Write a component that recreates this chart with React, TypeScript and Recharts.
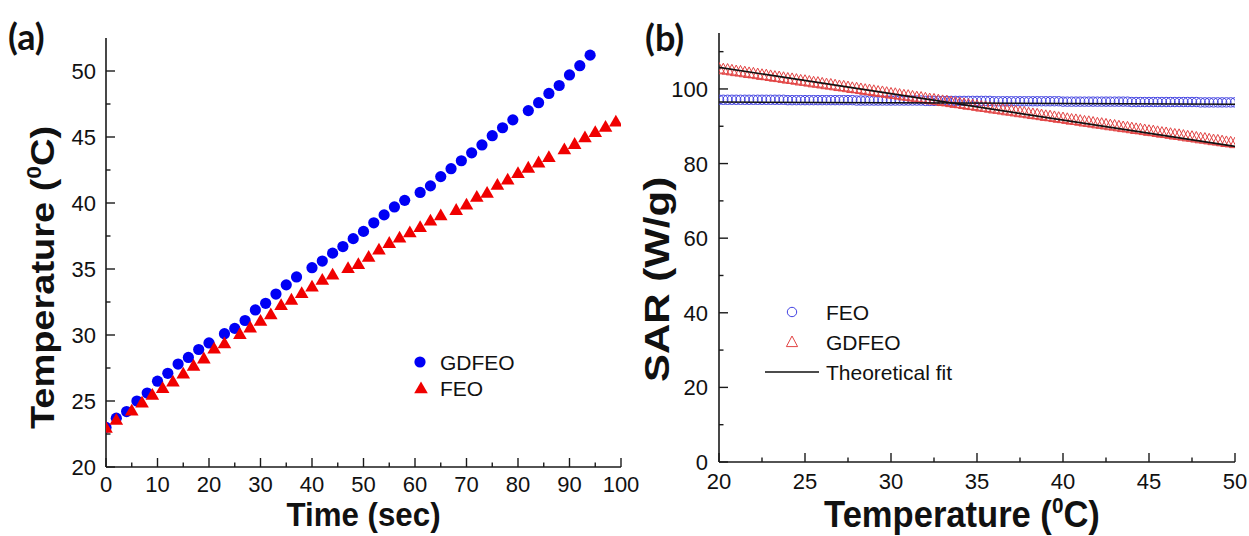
import { ScatterChart, Scatter, XAxis, YAxis } from "recharts";

// ---------- (a) heating curves ----------
const gdfeoTime = [0, 2, 4, 6, 8, 10, 12, 14, 16, 18, 20, 23, 25, 27, 29, 31, 33, 35, 37, 40, 42, 44, 46, 48, 50, 52, 54, 56, 58, 61, 63, 65, 67, 69, 71, 73, 75, 77, 79, 82, 84, 86, 88, 90, 92, 94];
const gdfeoTemp = [23.0, 23.7, 24.2, 25.0, 25.6, 26.5, 27.1, 27.8, 28.3, 28.9, 29.4, 30.1, 30.5, 31.1, 31.9, 32.4, 33.1, 33.8, 34.4, 35.1, 35.6, 36.2, 36.7, 37.3, 37.85, 38.5, 39.1, 39.7, 40.2, 40.8, 41.3, 42.0, 42.6, 43.2, 43.8, 44.4, 45.1, 45.7, 46.3, 47.0, 47.6, 48.3, 48.9, 49.7, 50.4, 51.2];

const feoTime = [0, 2, 5, 7, 9, 11, 13, 15, 17, 19, 21, 23, 26, 28, 30, 32, 34, 36, 38, 40, 42, 44, 47, 49, 51, 53, 55, 57, 59, 61, 63, 65, 68, 70, 72, 74, 76, 78, 80, 82, 84, 86, 89, 91, 93, 95, 97, 99];
const feoTemp = [23.0, 23.6, 24.3, 24.9, 25.5, 26.0, 26.5, 27.1, 27.7, 28.25, 29.0, 29.4, 30.1, 30.6, 31.1, 31.6, 32.3, 32.7, 33.2, 33.7, 34.2, 34.6, 35.1, 35.4, 35.95, 36.5, 37.0, 37.4, 37.8, 38.2, 38.7, 39.1, 39.5, 39.9, 40.5, 40.8, 41.4, 41.8, 42.3, 42.7, 43.1, 43.5, 44.1, 44.5, 45.0, 45.4, 45.8, 46.2];

const timeLabels = [0, 10, 20, 30, 40, 50, 60, 70, 80, 90, 100];
const timeMinor = [5, 15, 25, 35, 45, 55, 65, 75, 85, 95];
const tempLabelsA = [20, 25, 30, 35, 40, 45, 50];
const tempMinorA = [22.5, 27.5, 32.5, 37.5, 42.5, 47.5];

// ---------- (b) SAR vs temperature ----------
const sarTemp = [
  20, 20.25, 20.5, 20.75, 21, 21.25, 21.5, 21.75, 22, 22.25, 22.5, 22.75, 23, 23.25, 23.5, 23.75,
  24, 24.25, 24.5, 24.75, 25, 25.25, 25.5, 25.75, 26, 26.25, 26.5, 26.75, 27, 27.25, 27.5, 27.75,
  28, 28.25, 28.5, 28.75, 29, 29.25, 29.5, 29.75, 30, 30.25, 30.5, 30.75, 31, 31.25, 31.5, 31.75,
  32, 32.25, 32.5, 32.75, 33, 33.25, 33.5, 33.75, 34, 34.25, 34.5, 34.75, 35, 35.25, 35.5, 35.75,
  36, 36.25, 36.5, 36.75, 37, 37.25, 37.5, 37.75, 38, 38.25, 38.5, 38.75, 39, 39.25, 39.5, 39.75,
  40, 40.25, 40.5, 40.75, 41, 41.25, 41.5, 41.75, 42, 42.25, 42.5, 42.75, 43, 43.25, 43.5, 43.75,
  44, 44.25, 44.5, 44.75, 45, 45.25, 45.5, 45.75, 46, 46.25, 46.5, 46.75, 47, 47.25, 47.5, 47.75,
  48, 48.25, 48.5, 48.75, 49, 49.25, 49.5, 49.75, 50,
];
const sarFeo = [
  97.1, 97.1, 97.1, 97.1, 97.1, 97.1, 97.1, 97.1, 97.1, 97.1, 97.1, 97.1, 97.1, 97.1, 97.1, 97.1,
  97.0, 97.0, 97.0, 97.0, 97.0, 97.0, 97.0, 97.0, 97.0, 97.0, 97.0, 97.0, 97.0, 97.0, 97.0, 97.0,
  96.9, 96.9, 96.9, 96.9, 96.9, 96.9, 96.9, 96.9, 96.9, 96.9, 96.9, 96.9, 96.9, 96.9, 96.9, 96.9,
  96.8, 96.8, 96.8, 96.8, 96.8, 96.8, 96.8, 96.8, 96.8, 96.8, 96.8, 96.8, 96.8, 96.8, 96.8, 96.8,
  96.7, 96.7, 96.7, 96.7, 96.7, 96.7, 96.7, 96.7, 96.7, 96.7, 96.7, 96.7, 96.7, 96.7, 96.7, 96.7,
  96.6, 96.6, 96.6, 96.6, 96.6, 96.6, 96.6, 96.6, 96.6, 96.6, 96.6, 96.6, 96.6, 96.6, 96.6, 96.6,
  96.5, 96.5, 96.5, 96.5, 96.5, 96.5, 96.5, 96.5, 96.5, 96.5, 96.5, 96.5, 96.5, 96.5, 96.5, 96.5,
  96.4, 96.4, 96.4, 96.4, 96.4, 96.4, 96.4, 96.4, 96.4,
];
const sarGdfeo = [
  105.5, 105.3, 105.2, 105.0, 104.8, 104.7, 104.5, 104.3, 104.2, 104.0, 103.8, 103.7,
  103.5, 103.3, 103.2, 103.0, 102.8, 102.7, 102.5, 102.3, 102.2, 102.0, 101.8, 101.7,
  101.5, 101.3, 101.2, 101.0, 100.8, 100.7, 100.5, 100.3, 100.2, 100.0, 99.8, 99.7,
  99.5, 99.3, 99.2, 99.0, 98.8, 98.7, 98.5, 98.3, 98.2, 98.0, 97.8, 97.7,
  97.5, 97.3, 97.2, 97.0, 96.8, 96.7, 96.5, 96.3, 96.2, 96.0, 95.8, 95.7,
  95.5, 95.3, 95.2, 95.0, 94.8, 94.7, 94.5, 94.3, 94.2, 94.0, 93.8, 93.7,
  93.5, 93.3, 93.2, 93.0, 92.8, 92.7, 92.5, 92.3, 92.2, 92.0, 91.8, 91.7,
  91.5, 91.3, 91.2, 91.0, 90.8, 90.7, 90.5, 90.3, 90.2, 90.0, 89.8, 89.7,
  89.5, 89.3, 89.2, 89.0, 88.8, 88.7, 88.5, 88.3, 88.2, 88.0, 87.8, 87.7,
  87.5, 87.3, 87.2, 87.0, 86.8, 86.7, 86.5, 86.3, 86.2, 86.0, 85.8, 85.7,
  85.5,
];
const fitTemp = [20, 50];
const fitFeo = [96.5, 95.9];
const fitGdfeo = [105.8, 84.6];

const tempLabelsB = [20, 25, 30, 35, 40, 45, 50];
const tempMinorB = [22.5, 27.5, 32.5, 37.5, 42.5, 47.5];
const sarLabels = [0, 20, 40, 60, 80, 100];
const sarMinor = [10, 30, 50, 70, 90, 110];

const FONT = '"Liberation Sans", Arial, Helvetica, sans-serif';
const INK = "#1a1a1a";
const AXIS = { stroke: INK, strokeWidth: 1.6 };
const BLUE_OPEN = "#4242e2";
const RED_OPEN = "#e24444";

const pts = (xs: number[], ys: number[]) => xs.map((x, i) => ({ x, y: ys[i] }));
const merge = (a: number[], b: number[]) => [...a, ...b].sort((p, q) => p - q);

type Side = "bottom" | "top" | "left" | "right";

// inward ticks, long for labelled values, short for minors
function makeTick(side: Side, labels: number[], gap: number) {
  return (props: any) => {
    const { x, y, payload } = props;
    const v = Number(payload?.value);
    const major = labels.includes(v);
    const len = major ? 9 : 4.5;
    let x2 = x;
    let y2 = y;
    if (side === "bottom") y2 = y - len;
    if (side === "top") y2 = y + len;
    if (side === "left") x2 = x + len;
    if (side === "right") x2 = x - len;
    return (
      <g>
        <line x1={x} y1={y} x2={x2} y2={y2} stroke={INK} strokeWidth={1.4} />
        {major && side === "bottom" && (
          <text x={x} y={y + gap} textAnchor="middle" fontSize={22} fill="#111" fontFamily={FONT}>
            {v}
          </text>
        )}
        {major && side === "left" && (
          <text x={x - gap} y={y + 8} textAnchor="end" fontSize={22} fill="#111" fontFamily={FONT}>
            {v}
          </text>
        )}
      </g>
    );
  };
}

const BlueDot = (p: any) => <circle cx={p.cx} cy={p.cy} r={5.6} fill="#0000f5" />;
const RedTri = (p: any) => (
  <polygon
    points={`${p.cx},${p.cy - 6.5} ${p.cx - 6.8},${p.cy + 5.3} ${p.cx + 6.8},${p.cy + 5.3}`}
    fill="#f00000"
  />
);
const OpenCircle = (p: any) => (
  <circle cx={p.cx} cy={p.cy} r={4.7} fill="none" stroke={BLUE_OPEN} strokeWidth={1} />
);
const OpenTri = (p: any) => (
  <polygon
    points={`${p.cx},${p.cy - 6} ${p.cx - 5.6},${p.cy + 4.6} ${p.cx + 5.6},${p.cy + 4.6}`}
    fill="none"
    stroke={RED_OPEN}
    strokeWidth={1}
  />
);
const NoDot = () => <g />;

const degC = (size: number) => (
  <>
    Temperature (
    <tspan dy={-size * 0.4} fontSize={size * 0.6}>
      0
    </tspan>
    <tspan dy={size * 0.4}>C)</tspan>
  </>
);

function TitleX(opts: { text: any; size: number; squeeze: number; dx: number; dy: number }) {
  return (p: any) => {
    const vb = p.viewBox || { x: 0, y: 0, width: 0 };
    const cx = vb.x + vb.width / 2 + opts.dx;
    const cy = vb.y + opts.dy;
    return (
      <text
        transform={`translate(${cx},${cy}) scale(${opts.squeeze},1)`}
        textAnchor="middle"
        fontSize={opts.size}
        fontWeight="bold"
        fill="#111"
        fontFamily={FONT}
      >
        {opts.text}
      </text>
    );
  };
}

function TitleY(opts: { text: any; size: number; squeeze: number; bx: number; dy: number }) {
  return (p: any) => {
    const vb = p.viewBox || { x: 0, y: 0, height: 0 };
    const cy = vb.y + vb.height / 2 + opts.dy;
    return (
      <text
        transform={`translate(${opts.bx},${cy}) scale(${opts.squeeze},1) rotate(-90)`}
        textAnchor="middle"
        fontSize={opts.size}
        fontWeight="bold"
        fill="#111"
        fontFamily={FONT}
      >
        {opts.text}
      </text>
    );
  };
}

function PanelA() {
  const xt = merge(timeLabels, timeMinor);
  const yt = merge(tempLabelsA, tempMinorA);
  return (
    <ScatterChart width={640} height={536} margin={{ top: 38, right: 19, bottom: 9, left: 0 }}>
      <XAxis
        type="number"
        dataKey="x"
        domain={[0, 100]}
        ticks={xt}
        interval={0}
        tickSize={0}
        tickMargin={0}
        tickLine={false}
        axisLine={AXIS}
        tick={makeTick("bottom", timeLabels, 25)}
        height={60}
        allowDataOverflow
        label={TitleX({ text: "Time (sec)", size: 34, squeeze: 0.92, dx: 0, dy: 59 })}
      />
      <XAxis
        xAxisId="top"
        orientation="top"
        type="number"
        domain={[0, 100]}
        ticks={xt}
        interval={0}
        tickSize={0}
        tickMargin={0}
        tickLine={false}
        axisLine={AXIS}
        tick={makeTick("top", timeLabels, 0)}
        height={0}
        allowDataOverflow
      />
      <YAxis
        type="number"
        dataKey="y"
        domain={[20, 52.5]}
        ticks={yt}
        interval={0}
        tickSize={0}
        tickMargin={0}
        tickLine={false}
        axisLine={AXIS}
        tick={makeTick("left", tempLabelsA, 10)}
        width={106}
        allowDataOverflow
        label={TitleY({ text: degC(38), size: 38, squeeze: 0.85, bx: 54, dy: 25 })}
      />
      <YAxis
        yAxisId="right"
        orientation="right"
        type="number"
        domain={[20, 52.5]}
        ticks={yt}
        interval={0}
        tickSize={0}
        tickMargin={0}
        tickLine={false}
        axisLine={AXIS}
        tick={makeTick("right", tempLabelsA, 0)}
        width={0}
        allowDataOverflow
      />
      <Scatter name="GDFEO" data={pts(gdfeoTime, gdfeoTemp)} shape={BlueDot} isAnimationActive={false} />
      <Scatter name="FEO" data={pts(feoTime, feoTemp)} shape={RedTri} isAnimationActive={false} />
    </ScatterChart>
  );
}

function PanelB() {
  const xt = merge(tempLabelsB, tempMinorB);
  const yt = merge(sarLabels, sarMinor);
  return (
    <ScatterChart width={629} height={536} margin={{ top: 33, right: 14, bottom: 14, left: 0 }}>
      <XAxis
        type="number"
        dataKey="x"
        domain={[20, 50]}
        ticks={xt}
        interval={0}
        tickSize={0}
        tickMargin={0}
        tickLine={false}
        axisLine={AXIS}
        tick={makeTick("bottom", tempLabelsB, 27)}
        height={60}
        allowDataOverflow
        label={TitleX({ text: degC(36), size: 36, squeeze: 0.96, dx: -15, dy: 65 })}
      />
      <XAxis
        xAxisId="top"
        orientation="top"
        type="number"
        domain={[20, 50]}
        ticks={xt}
        interval={0}
        tickSize={0}
        tickMargin={0}
        tickLine={false}
        axisLine={AXIS}
        tick={makeTick("top", tempLabelsB, 0)}
        height={0}
        allowDataOverflow
      />
      <YAxis
        type="number"
        dataKey="y"
        domain={[0, 115]}
        ticks={yt}
        interval={0}
        tickSize={0}
        tickMargin={0}
        tickLine={false}
        axisLine={AXIS}
        tick={makeTick("left", sarLabels, 11)}
        width={99}
        allowDataOverflow
        label={TitleY({ text: "SAR (W/g)", size: 42, squeeze: 0.85, bx: 49, dy: 32 })}
      />
      <YAxis
        yAxisId="right"
        orientation="right"
        type="number"
        domain={[0, 115]}
        ticks={yt}
        interval={0}
        tickSize={0}
        tickMargin={0}
        tickLine={false}
        axisLine={AXIS}
        tick={makeTick("right", sarLabels, 0)}
        width={0}
        allowDataOverflow
      />
      <Scatter name="FEO" data={pts(sarTemp, sarFeo)} shape={OpenCircle} isAnimationActive={false} />
      <Scatter name="GDFEO" data={pts(sarTemp, sarGdfeo)} shape={OpenTri} isAnimationActive={false} />
      <Scatter
        name="fit FEO"
        data={pts(fitTemp, fitFeo)}
        line={{ stroke: "#111", strokeWidth: 1.6 }}
        shape={NoDot}
        isAnimationActive={false}
      />
      <Scatter
        name="fit GDFEO"
        data={pts(fitTemp, fitGdfeo)}
        line={{ stroke: "#111", strokeWidth: 1.6 }}
        shape={NoDot}
        isAnimationActive={false}
      />
    </ScatterChart>
  );
}

export default function App() {
  return (
    <div
      style={{
        position: "absolute",
        left: 0,
        top: 0,
        width: 1249,
        height: 536,
        background: "#fff",
        overflow: "hidden",
      }}
    >
      <div style={{ position: "absolute", left: 0, top: 0 }}>
        <PanelA />
      </div>
      <div style={{ position: "absolute", left: 620, top: 0 }}>
        <PanelB />
      </div>
      {/* panel tags and legends */}
      <svg
        width={1249}
        height={536}
        style={{ position: "absolute", left: 0, top: 0, pointerEvents: "none" }}
      >
        <text x={8} y={50} fontSize={36} fontWeight="bold" fontFamily="Lato, sans-serif" fill="#111">
          (a)
        </text>
        <text x={645} y={51} fontSize={36} fontWeight="bold" fontFamily="Lato, sans-serif" fill="#111">
          (b)
        </text>

        <g fontFamily={FONT} fontSize={21} fill="#111">
          <circle cx={420} cy={362} r={5.6} fill="#0000f5" />
          <text x={440} y={369.5}>GDFEO</text>
          <polygon points="421,381.5 414.2,393.3 427.8,393.3" fill="#f00000" />
          <text x={440} y={395.5}>FEO</text>

          <circle cx={792} cy={312} r={4.7} fill="none" stroke={BLUE_OPEN} strokeWidth={1} />
          <text x={826} y={319.5}>FEO</text>
          <polygon points="792,336 786.4,346.6 797.6,346.6" fill="none" stroke={RED_OPEN} strokeWidth={1} />
          <text x={826} y={349.5}>GDFEO</text>
          <line x1={765} y1={372} x2={819} y2={372} stroke="#111" strokeWidth={1.6} />
          <text x={826} y={379.5}>Theoretical fit</text>
        </g>
      </svg>
    </div>
  );
}
